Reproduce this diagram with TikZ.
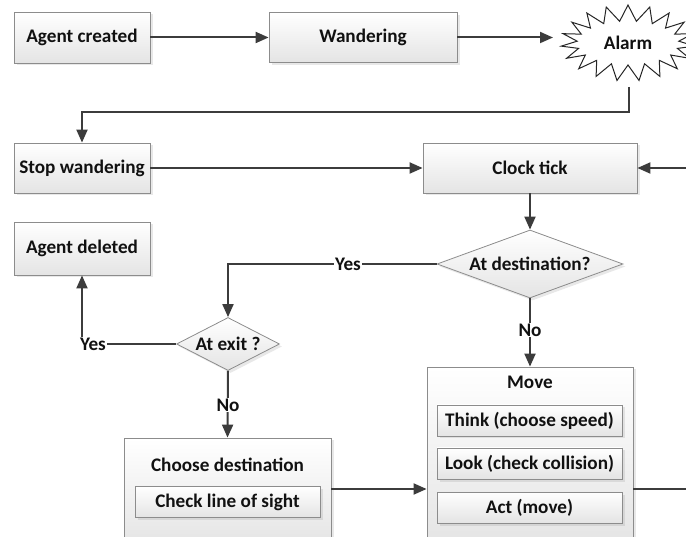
\documentclass[tikz,border=0pt]{standalone}
\usepackage{fontspec}
\setmainfont{Carlito}
\usetikzlibrary{arrows.meta,shapes.geometric,shapes.symbols,shadows}
\definecolor{linec}{HTML}{3C3C3C}
\definecolor{boxborder}{HTML}{8C8C8C}
\definecolor{boxbot}{HTML}{E4E4E4}
\definecolor{txt}{HTML}{111111}
\begin{document}
\begin{tikzpicture}[x=1pt,y=-1pt,
  font=\fontsize{19.2}{22}\selectfont\bfseries, text=txt,
  box/.style={draw=boxborder, line width=0.8pt, top color=white, bottom color=boxbot,
    drop shadow={shadow xshift=2.5pt, shadow yshift=-2.5pt, opacity=0.18}, inner sep=0pt},
  inbox/.style={box, minimum width=185pt, minimum height=31pt},
  decision/.style={diamond, draw=boxborder, line width=0.8pt, top color=white, bottom color=boxbot,
    drop shadow={shadow xshift=2.5pt, shadow yshift=-2.5pt, opacity=0.18}, inner sep=0pt},
  conn/.style={draw=linec, line width=2pt},
  arr/.style={conn, -{Triangle[length=13pt,width=11pt]}},
  lbl/.style={fill=white, inner sep=1pt}]
\useasboundingbox (0,0) rectangle (686,537);
\clip (0,0) rectangle (686,537);

% top row
\node[box, minimum width=136pt, minimum height=51pt] (created) at (82,37.5) {Agent created};
\node[box, minimum width=188pt, minimum height=50pt] (wander) at (363,37.5) {Wandering};
\node[starburst, draw=black!85, line width=1pt, fill=white, starburst points=19,
  starburst point height=16pt, random starburst=0, minimum width=134pt, minimum height=76pt,
  inner sep=0pt] (alarm) at (628,43) {Alarm};
\coordinate (alarmin) at (553,37.5);
\coordinate (alarmout) at (629,87);

% second row
\node[box, minimum width=136pt, minimum height=50pt] (stop) at (82,168) {Stop wandering};
\node[box, minimum width=214pt, minimum height=50pt] (clock) at (530,168) {Clock tick};
\node[box, minimum width=136pt, minimum height=53pt] (deleted) at (82,248.5) {Agent deleted};

% decisions
\node[decision, minimum width=186pt, minimum height=68pt, aspect=2.7] (atdest) at (530,264) {At destination?};
\node[decision, minimum width=103pt, minimum height=53pt, aspect=1.9] (atexit) at (228,344) {At exit ?};

% bottom boxes
\node[box, minimum width=207pt, minimum height=110pt] (choose) at (227.5,493) {};
\node (choosetitle) at (227.5,465) {Choose destination};
\node[inbox] (check) at (227.5,502) {Check line of sight};

\node[box, minimum width=206pt, minimum height=180pt] (move) at (530,457) {};
\node (movetitle) at (530,382) {Move};
\node[inbox] (think) at (529.5,420.5) {Think (choose speed)};
\node[inbox] (look) at (529.5,463.5) {Look (check collision)};
\node[inbox] (act) at (529.5,507.5) {Act (move)};

% helper coordinates
\coordinate (midrow) at (0,489);
\coordinate (turn1) at (82,112);
\coordinate (loopA) at (710,489);
\coordinate (loopB) at (710,168);
\coordinate (yesturn) at (228,264);
\coordinate (yesturn2) at (82,344);

% connectors
\draw[arr] (created.east) -- (wander.west);
\draw[arr] (wander.east) -- (alarmin);
\draw[arr] (alarmout) -- (alarmout |- turn1) -- (turn1) -- (stop.north);
\draw[arr] (stop.east) -- (clock.west);
\draw[arr] (loopA) -- (loopB) -- (clock.east);
\draw[conn] (move.east |- midrow) -- (loopA);
\draw[arr] (clock.south) -- (atdest.north);
\draw[arr] (atdest.west) -- (yesturn) -- (atexit.north);
\node[lbl] (yes1) at (348,264) {Yes};
\draw[arr] (atdest.south) -- (move.north);
\node[lbl] (no1) at (530,330) {No};
\draw[arr] (atexit.west) -- (yesturn2) -- (deleted.south);
\node[lbl] (yes2) at (93,344.5) {Yes};
\draw[arr] (atexit.south) -- (choose.north);
\node[lbl] (no2) at (228,405) {No};
\draw[arr] (choose.east |- midrow) -- (move.west |- midrow);
\end{tikzpicture}
\end{document}
